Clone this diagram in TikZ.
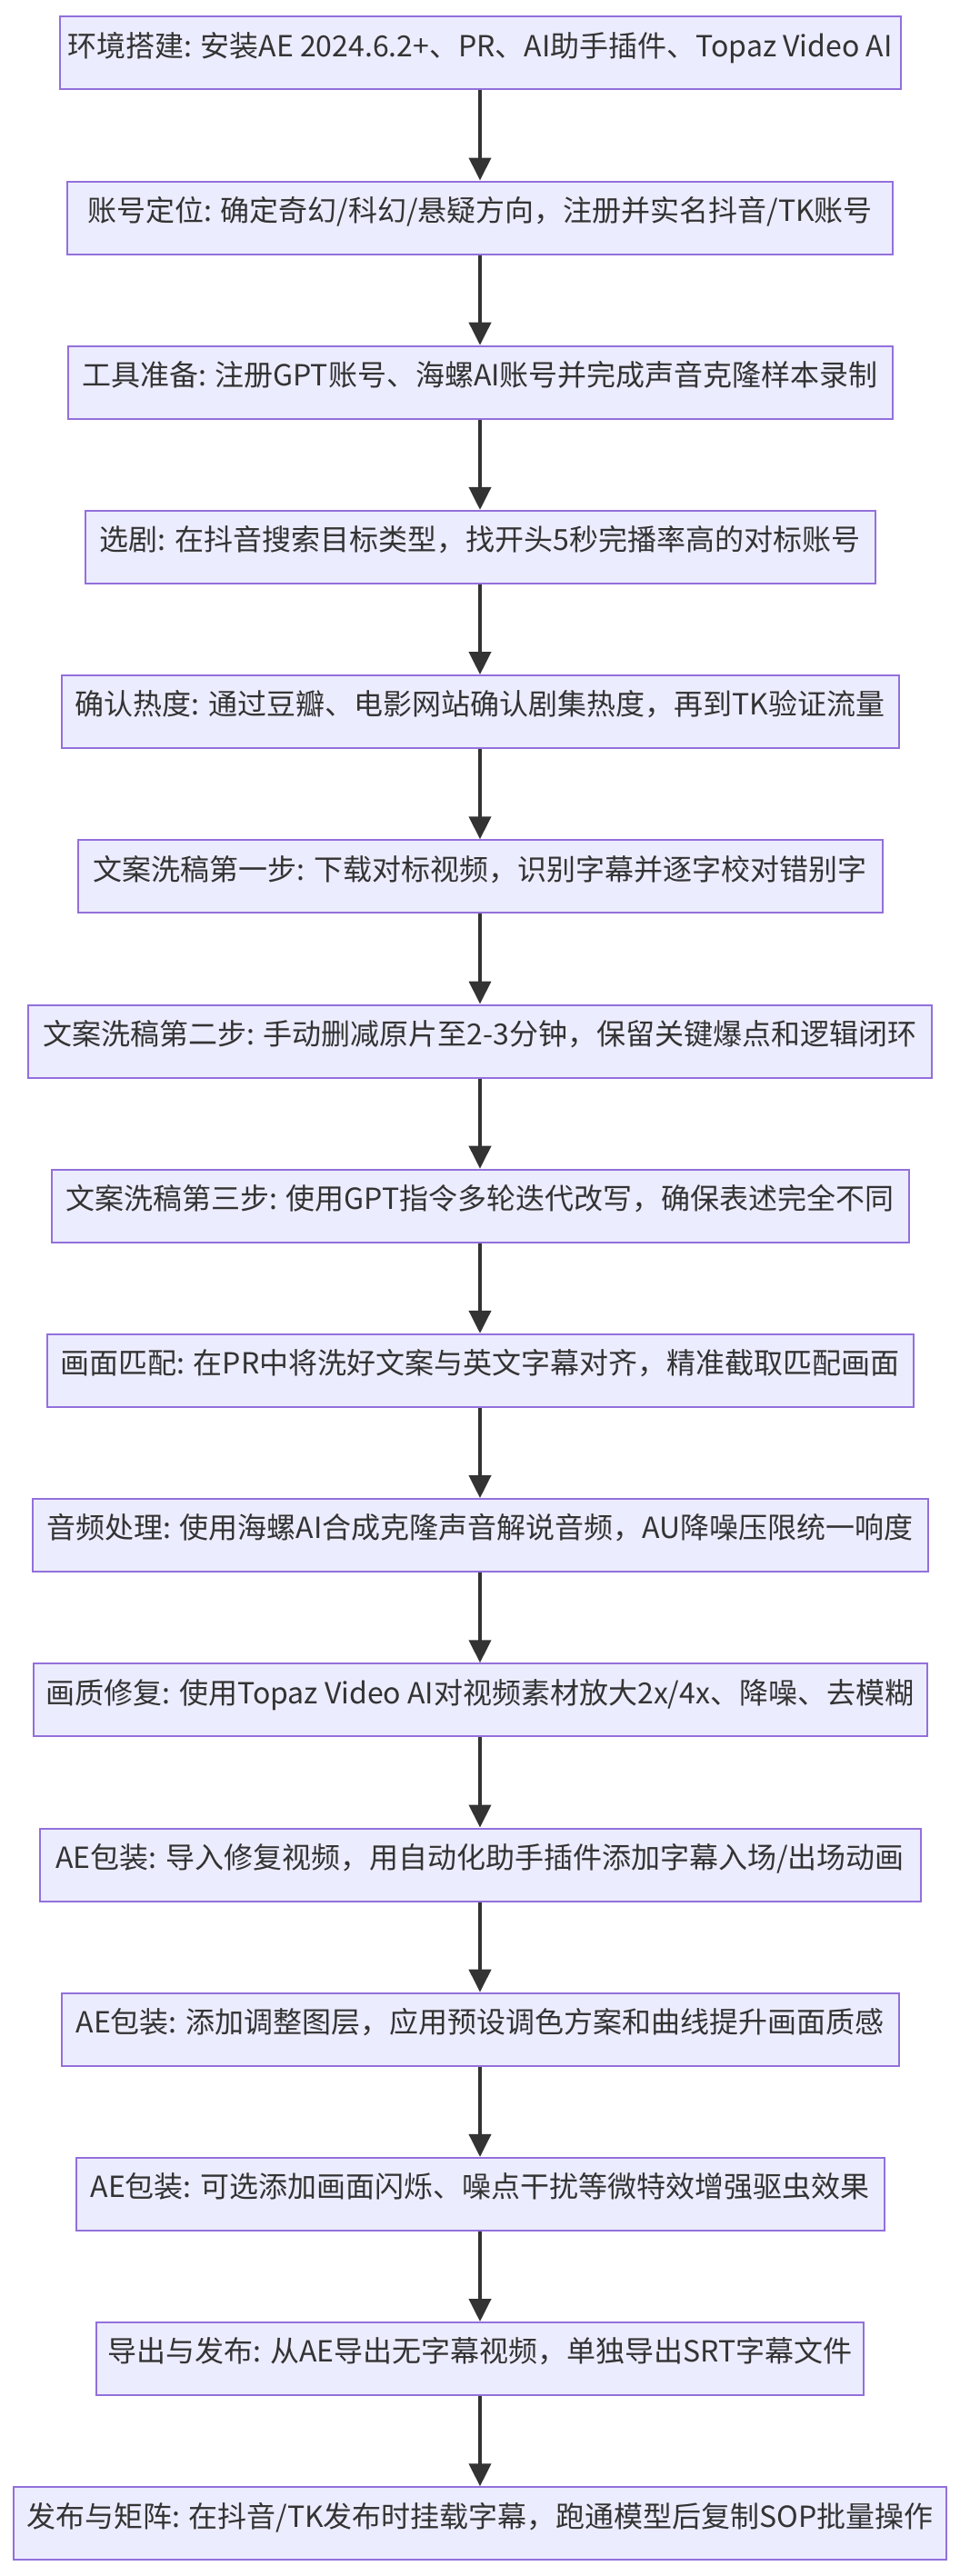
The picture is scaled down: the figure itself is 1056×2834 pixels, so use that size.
\documentclass[tikz,border=0pt]{standalone}
\usepackage{fontspec}
\setmainfont{Noto Sans CJK SC}
\usetikzlibrary{arrows.meta}
\definecolor{nodefill}{HTML}{ECECFF}
\definecolor{nodeline}{HTML}{9370DB}
\definecolor{ink}{HTML}{333333}
\tikzset{
  stepbox/.style={draw=nodeline, fill=nodefill, line width=2pt, minimum height=80pt,
    inner xsep=4pt, inner ysep=0pt, text=ink, font=\fontsize{32pt}{38pt}\selectfont,
    text height=0.88em, text depth=0.12em},
  conn/.style={draw=ink, line width=4pt, -{Triangle[width=24pt,length=25pt]}}
}
\begin{document}
\begin{tikzpicture}[x=1pt,y=1pt]
\useasboundingbox (0,0) rectangle (1056,-2834);
\node[stepbox, minimum width=925pt]  (b1)  at (528,-58.3)   {环境搭建: 安装AE 2024.6.2+、PR、AI助手插件、Topaz Video AI};
\node[stepbox, minimum width=908pt]  (b2)  at (528,-239.5)  {账号定位: 确定奇幻/科幻/悬疑方向，注册并实名抖音/TK账号};
\node[stepbox, minimum width=907pt]  (b3)  at (528,-420.7)  {工具准备: 注册GPT账号、海螺AI账号并完成声音克隆样本录制};
\node[stepbox, minimum width=869pt]  (b4)  at (528,-601.9)  {选剧: 在抖音搜索目标类型，找开头5秒完播率高的对标账号};
\node[stepbox, minimum width=921pt]  (b5)  at (528,-783.1)  {确认热度: 通过豆瓣、电影网站确认剧集热度，再到TK验证流量};
\node[stepbox, minimum width=885pt]  (b6)  at (528,-964.3)  {文案洗稿第一步: 下载对标视频，识别字幕并逐字校对错别字};
\node[stepbox, minimum width=994pt]  (b7)  at (528,-1145.5) {文案洗稿第二步: 手动删减原片至2-3分钟，保留关键爆点和逻辑闭环};
\node[stepbox, minimum width=943pt]  (b8)  at (528,-1326.7) {文案洗稿第三步: 使用GPT指令多轮迭代改写，确保表述完全不同};
\node[stepbox, minimum width=953pt]  (b9)  at (528,-1507.9) {画面匹配: 在PR中将洗好文案与英文字幕对齐，精准截取匹配画面};
\node[stepbox, minimum width=985pt]  (b10) at (528,-1689.1) {音频处理: 使用海螺AI合成克隆声音解说音频，AU降噪压限统一响度};
\node[stepbox, minimum width=983pt]  (b11) at (528,-1870.3) {画质修复: 使用Topaz Video AI对视频素材放大2x/4x、降噪、去模糊};
\node[stepbox, minimum width=969pt]  (b12) at (528,-2051.5) {AE包装: 导入修复视频，用自动化助手插件添加字幕入场/出场动画};
\node[stepbox, minimum width=921pt]  (b13) at (528,-2232.7) {AE包装: 添加调整图层，应用预设调色方案和曲线提升画面质感};
\node[stepbox, minimum width=889pt]  (b14) at (528,-2413.9) {AE包装: 可选添加画面闪烁、噪点干扰等微特效增强驱虫效果};
\node[stepbox, minimum width=844pt]  (b15) at (528,-2595.1) {导出与发布: 从AE导出无字幕视频，单独导出SRT字幕文件};
\node[stepbox, minimum width=1026pt] (b16) at (528,-2776.3) {发布与矩阵: 在抖音/TK发布时挂载字幕，跑通模型后复制SOP批量操作};
\draw[conn] (b1) -- (b2);
\draw[conn] (b2) -- (b3);
\draw[conn] (b3) -- (b4);
\draw[conn] (b4) -- (b5);
\draw[conn] (b5) -- (b6);
\draw[conn] (b6) -- (b7);
\draw[conn] (b7) -- (b8);
\draw[conn] (b8) -- (b9);
\draw[conn] (b9) -- (b10);
\draw[conn] (b10) -- (b11);
\draw[conn] (b11) -- (b12);
\draw[conn] (b12) -- (b13);
\draw[conn] (b13) -- (b14);
\draw[conn] (b14) -- (b15);
\draw[conn] (b15) -- (b16);
\end{tikzpicture}
\end{document}
